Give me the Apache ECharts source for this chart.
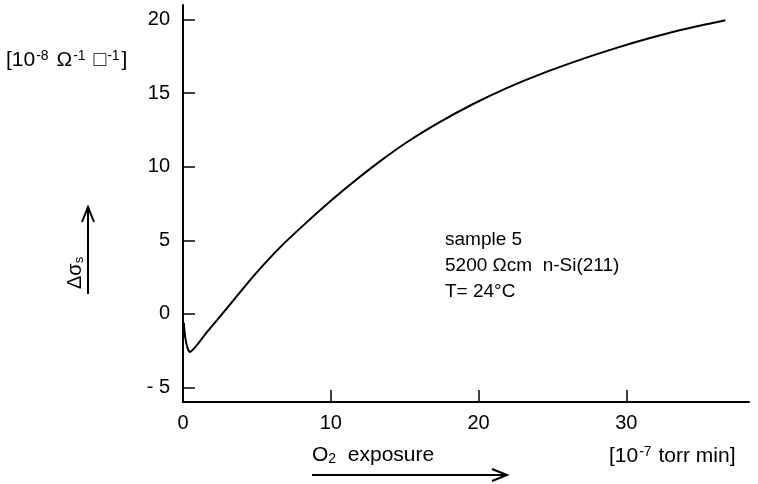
<!DOCTYPE html>
<html>
<head>
<meta charset="utf-8">
<script src="https://cdn.jsdelivr.net/npm/echarts@6/dist/echarts.min.js"></script>
<style>
  html, body { margin: 0; padding: 0; background: #fff; }
  #main { width: 758px; height: 484px; }
</style>
</head>
<body>
<div id="main"></div>
<script>
// O2 exposure [10^-7 torr min]
var exposure = [0.05, 0.15, 0.3, 0.47, 0.8, 1.2, 1.7, 2.5, 3.2, 4.8, 6.6, 8.4, 10.2, 11.3, 13.3,
    15.2, 17.4, 19.7, 21.9, 24.2, 27.1, 29.4, 31.6, 33.9, 36.7];
// delta sigma_s [10^-8 ohm^-1 sq^-1]
var deltaSigma = [-0.6, -1.6, -2.3, -2.6, -2.3, -1.8, -1.15, -0.2, 0.66, 2.6, 4.55, 6.25, 7.85, 8.78, 10.35,
    11.7, 13.05, 14.3, 15.35, 16.3, 17.35, 18.1, 18.75, 19.35, 19.96];

var xTicks = [0, 10, 20, 30];
var yTicks = [-5, 0, 5, 10, 15, 20];

var font = 'Liberation Sans, Arial, sans-serif';

var points = [];
for (var i = 0; i < exposure.length; i++) {
    points.push([exposure[i], deltaSigma[i]]);
}

var myChart = echarts.init(document.getElementById('main'));

var option = {
    animation: false,
    backgroundColor: '#fff',
    grid: {
        left: 183,
        right: 9,
        top: 5,
        bottom: 82
    },
    xAxis: {
        type: 'value',
        min: 0,
        max: 38.3,
        axisLine: { show: true, onZero: false, lineStyle: { color: '#000', width: 2 } },
        axisTick: { show: true, inside: true, length: 12, customValues: xTicks, lineStyle: { color: '#000', width: 1.5 } },
        axisLabel: { customValues: xTicks, color: '#000', fontSize: 20, fontFamily: font, margin: 11 },
        splitLine: { show: false }
    },
    yAxis: {
        type: 'value',
        min: -6,
        max: 21,
        axisLine: { show: true, onZero: false, lineStyle: { color: '#000', width: 2 } },
        axisTick: { show: true, inside: true, length: 12, customValues: yTicks, lineStyle: { color: '#000', width: 1.5 } },
        axisLabel: {
            customValues: yTicks, color: '#000', fontSize: 20, fontFamily: font, margin: 13,
            formatter: function (v) { return v < 0 ? '- ' + Math.abs(v) : String(v); }
        },
        splitLine: { show: false }
    },
    series: [
        {
            type: 'line',
            data: points,
            smooth: 0.2,
            showSymbol: false,
            lineStyle: { color: '#000', width: 2 }
        }
    ],
    graphic: [
        {
            type: 'text',
            left: 6,
            top: 49,
            style: {
                text: '[10{sup|-8} \u03A9{sup|-1} \u25A1{sup|-1}]',
                font: '21px ' + font,
                fill: '#000',
                rich: {
                    sup: { fontSize: 14, verticalAlign: 'top', padding: [0, 2, 8, 1], fontFamily: font }
                }
            }
        },
        {
            type: 'text',
            x: 65,
            y: 289,
            rotation: Math.PI / 2,
            style: {
                text: '\u0394\u03C3{sub|s}',
                font: '20px ' + font,
                fill: '#000',
                rich: {
                    sub: { fontSize: 13, verticalAlign: 'bottom', padding: [8, 0, 0, 0], fontFamily: font }
                }
            }
        },
        {
            type: 'polyline',
            shape: { points: [[88, 294], [88, 208]] },
            style: { stroke: '#000', lineWidth: 2, fill: null }
        },
        {
            type: 'polyline',
            shape: { points: [[82, 222], [88, 207], [94, 222]] },
            style: { stroke: '#000', lineWidth: 2, fill: null }
        },
        {
            type: 'text',
            left: 312,
            top: 445,
            style: {
                text: 'O{sub|2}  exposure',
                font: '21px ' + font,
                fill: '#000',
                rich: {
                    sub: { fontSize: 14, verticalAlign: 'bottom', padding: [8, 0, 0, 0], fontFamily: font }
                }
            }
        },
        {
            type: 'polyline',
            shape: { points: [[312, 475], [506, 475]] },
            style: { stroke: '#000', lineWidth: 2, fill: null }
        },
        {
            type: 'polyline',
            shape: { points: [[492, 469], [507, 475], [492, 481]] },
            style: { stroke: '#000', lineWidth: 2, fill: null }
        },
        {
            type: 'text',
            left: 609,
            top: 445,
            style: {
                text: '[10{sup|-7} torr min]',
                font: '21px ' + font,
                fill: '#000',
                rich: {
                    sup: { fontSize: 14, verticalAlign: 'top', padding: [0, 1, 8, 1], fontFamily: font }
                }
            }
        },
        {
            type: 'text',
            left: 445,
            top: 227,
            style: {
                text: 'sample 5\n5200 \u03A9cm  n-Si(211)\nT= 24\u00B0C',
                font: '19px ' + font,
                lineHeight: 26,
                fill: '#000'
            }
        }
    ]
};

myChart.setOption(option);
</script>
</body>
</html>
